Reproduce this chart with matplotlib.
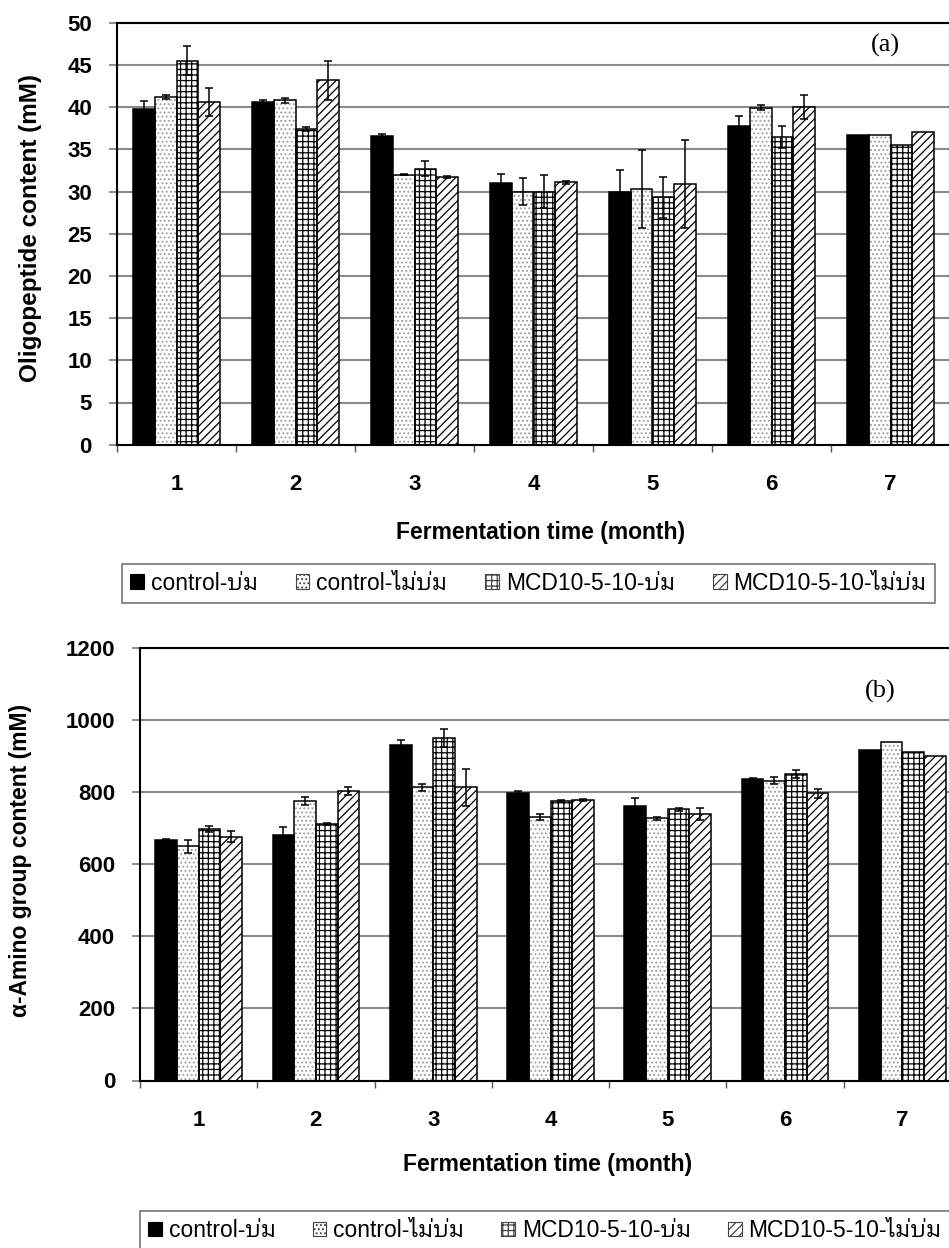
import numpy as np
import matplotlib
matplotlib.use("Agg")
import matplotlib.pyplot as plt
from matplotlib.patches import Patch
from matplotlib.font_manager import FontProperties

months = ["1", "2", "3", "4", "5", "6", "7"]
series = ["control-บ่ม", "control-ไม่บ่ม", "MCD10-5-10-บ่ม", "MCD10-5-10-ไม่บ่ม"]

# oligopeptide content (mM)
oligo_ctrl_inc = [39.8, 40.6, 36.6, 31.0, 30.0, 37.8, 36.7]
oligo_ctrl_non = [41.2, 40.8, 32.0, 30.0, 30.3, 39.9, 36.7]
oligo_mcd_inc = [45.5, 37.4, 32.7, 30.0, 29.3, 36.5, 35.5]
oligo_mcd_non = [40.6, 43.2, 31.7, 31.1, 30.9, 40.0, 37.0]
oligo_ctrl_inc_err = [0.9, 0.2, 0.2, 1.1, 2.6, 1.1, 0]
oligo_ctrl_non_err = [0.2, 0.3, 0.1, 1.6, 4.6, 0.3, 0]
oligo_mcd_inc_err = [1.7, 0.2, 0.9, 1.9, 2.4, 1.3, 0]
oligo_mcd_non_err = [1.7, 2.3, 0.1, 0.2, 5.2, 1.4, 0]

# alpha-amino group content (mM)
amino_ctrl_inc = [667, 680, 931, 797, 762, 836, 915]
amino_ctrl_non = [649, 774, 813, 731, 727, 831, 938]
amino_mcd_inc = [697, 711, 950, 776, 752, 850, 910]
amino_mcd_non = [676, 803, 813, 778, 739, 796, 899]
amino_ctrl_inc_err = [3, 24, 13, 5, 20, 3, 0]
amino_ctrl_non_err = [18, 11, 9, 8, 4, 10, 0]
amino_mcd_inc_err = [8, 3, 25, 3, 4, 12, 0]
amino_mcd_non_err = [15, 11, 51, 3, 16, 12, 0]

plt.rcParams["font.family"] = ["Liberation Sans", "IBM Plex Sans Thai Looped"]
plt.rcParams["hatch.linewidth"] = 0.9

W, H = 949, 1248
fig = plt.figure(figsize=(W / 100, H / 100), dpi=100)

# fill, hatch, hatch colour per series
styles = [("black", "", "black"),
          ("white", "....", "#a0a0a0"),
          ("white", "+++", "black"),
          ("white", "////", "black")]


def px_axes(left, top, right, bottom):
    return fig.add_axes([left / W, 1 - bottom / H, (right - left) / W, (bottom - top) / H])


def draw(ax, means, errs, ymax, ystep, width):
    x = np.arange(len(months))
    for i, (vals, err) in enumerate(zip(means, errs)):
        fc, hatch, hc = styles[i]
        pos = x + (i - 1.5) * width
        ax.bar(pos, vals, width, color=fc, hatch=hatch, edgecolor=hc, linewidth=0, zorder=2)
        ax.bar(pos, vals, width, fill=False, edgecolor="black", linewidth=1.1, zorder=3)
        err = np.array(err, dtype=float)
        m = err > 0
        ax.errorbar(pos[m], np.array(vals)[m], yerr=err[m], fmt="none", ecolor="black",
                    elinewidth=1.1, capsize=3, capthick=1.1, zorder=4)
    ax.set_xlim(-0.5, len(months) - 0.5)
    ax.set_ylim(0, ymax)
    ax.set_yticks(np.arange(0, ymax + 1, ystep))
    ax.set_xticks(x)
    ax.set_xticklabels(months)
    ax.set_xticks(np.arange(-0.5, len(months)), minor=True)
    ax.yaxis.grid(True, color="#8a8a8a", linewidth=1.5, zorder=0)
    ax.set_axisbelow(True)
    for s in ax.spines.values():
        s.set_linewidth(1.5)
    ax.tick_params(axis="x", which="major", length=0, pad=21, labelsize=16)
    ax.tick_params(axis="x", which="minor", length=5, width=1.0, color="#555555")
    ax.tick_params(axis="y", length=6, width=1.2, color="#7a7a7a", pad=12, labelsize=16)
    for lab in ax.get_xticklabels() + ax.get_yticklabels():
        lab.set_fontweight("bold")


ax1 = px_axes(117, 22.7, 950, 444.7)
draw(ax1, [oligo_ctrl_inc, oligo_ctrl_non, oligo_mcd_inc, oligo_mcd_non],
     [oligo_ctrl_inc_err, oligo_ctrl_non_err, oligo_mcd_inc_err, oligo_mcd_non_err],
     50, 5, 0.182)

ax2 = px_axes(140, 647.7, 961, 1080.5)
draw(ax2, [amino_ctrl_inc, amino_ctrl_non, amino_mcd_inc, amino_mcd_non],
     [amino_ctrl_inc_err, amino_ctrl_non_err, amino_mcd_inc_err, amino_mcd_non_err],
     1200, 200, 0.185)

fig.text(31 / W, 1 - 228 / H, "Oligopeptide content (mM)", rotation=90, ha="center", va="center",
         fontsize=17.5, fontweight="bold")
fig.text(21 / W, 1 - 860 / H, "α-Amino group content (mM)", rotation=90, ha="center", va="center",
         fontsize=16.5, fontweight="bold", family=["Liberation Sans", "DejaVu Sans"])
fig.text(541 / W, 1 - 532 / H, "Fermentation time (month)", ha="center", va="center",
         fontsize=16.5, fontweight="bold")
fig.text(548 / W, 1 - 1164 / H, "Fermentation time (month)", ha="center", va="center",
         fontsize=16.5, fontweight="bold")

fig.text(885 / W, 1 - 45 / H, "(a)", ha="center", va="center", fontsize=19, family="Liberation Serif")
fig.text(880 / W, 1 - 691 / H, "(b)", ha="center", va="center", fontsize=19, family="Liberation Serif")

handles = [Patch(facecolor=fc, edgecolor="#444444" if fc == "white" else "black", hatch=h, linewidth=0.8)
           for fc, h, _ in styles]
lprop = FontProperties(family=["Liberation Sans", "IBM Plex Sans Thai Looped"], size=16.5)


def add_legend(left, top, right, bottom):
    leg = fig.legend(handles, series, loc="lower left", ncol=4, mode="expand",
                     bbox_to_anchor=(left / W, 1 - bottom / H, (right - left) / W, (bottom - top) / H),
                     borderaxespad=0, prop=lprop, handlelength=0.6, handleheight=0.6,
                     handletextpad=0.3, fancybox=False, framealpha=1, borderpad=0.35)
    leg.get_frame().set_edgecolor("#777777")
    leg.get_frame().set_linewidth(1.2)


add_legend(122, 561.7, 935, 602.7)
add_legend(140, 1206, 950, 1250)

fig.savefig("out.png", dpi=100)
